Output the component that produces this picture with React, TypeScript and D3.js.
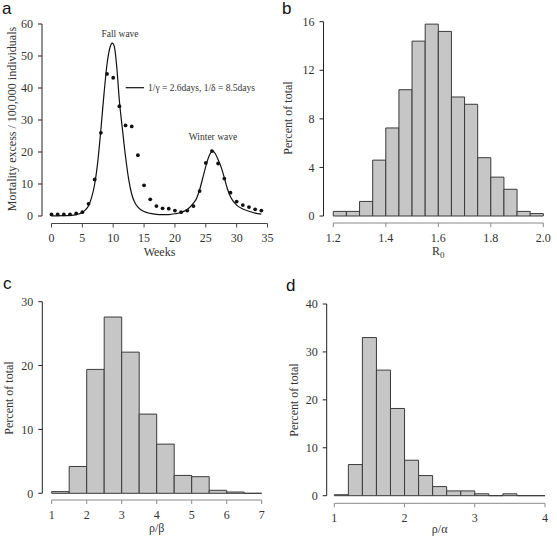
import React from "react";
import * as d3 from "d3";

// ---------- Panel a data ----------
const weeks = d3.range(0, 35);
const observed = [
  0.5, 0.5, 0.5, 0.5, 0.8, 1.2, 3.8, 11.4, 26, 44.4, 43.2, 34.3, 28.3, 28, 19, 9.6, 5.2,
  3.1, 2.4, 2.3, 1.7, 1.2, 1.7, 3.1, 7.8, 16.6, 20.3, 16.4, 11.7, 7.3, 4.5, 3.4, 2.8, 2.1, 1.7,
];
const modelWeeks = [
  0, 2, 3, 4, 5, 5.5, 6, 6.5, 7, 7.5, 8, 8.5, 9, 9.5, 9.85, 10.2, 10.6, 11, 11.5, 12, 12.5, 13,
  13.5, 14, 15, 16, 17, 18, 19, 20, 21, 22, 23, 23.5, 24, 24.5, 25, 25.5, 26.1, 26.5, 27, 27.5,
  28, 28.5, 29, 30, 31, 32, 33, 34,
];
const modelValues = [
  0.05, 0.1, 0.2, 0.45, 1.1, 1.9, 3.2, 5.8, 10, 17, 27, 38, 47.5, 52.8, 54, 52.8, 46, 36, 27,
  18.5, 11.5, 6.8, 4.2, 2.8, 1.4, 0.8, 0.5, 0.4, 0.45, 0.7, 1.1, 2.0, 4.0, 5.5, 8.2, 11.8,
  15.5, 18.6, 20.3, 19.6, 17.6, 15.2, 12, 8.5, 6, 3.4, 2.2, 1.5, 0.9, 0.6,
];
const weekTicks = [0, 5, 10, 15, 20, 25, 30, 35];
const mortalityTicks = [0, 10, 20, 30, 40, 50, 60];

// ---------- Panel b data (R0) ----------
const r0BinStarts = [1.2, 1.25, 1.3, 1.35, 1.4, 1.45, 1.5, 1.55, 1.6, 1.65, 1.7, 1.75, 1.8, 1.85, 1.9, 1.95];
const r0Percent = [0.38, 0.38, 1.2, 4.6, 7.25, 10.4, 14.4, 15.8, 15.2, 9.8, 9.2, 4.8, 3.2, 2.2, 0.38, 0.2];
const r0Ticks = [1.2, 1.4, 1.6, 1.8, 2.0];
const r0PercentTicks = [0, 4, 8, 12, 16];

// ---------- Panel c data (rho/beta) ----------
const rbBinStarts = [1, 1.5, 2, 2.5, 3, 3.5, 4, 4.5, 5, 5.5, 6, 6.5];
const rbPercent = [0.26, 4.2, 19.4, 27.6, 22.1, 12.4, 7.7, 2.8, 2.6, 0.47, 0.2, 0];
const rbTicks = [1, 2, 3, 4, 5, 6, 7];
const rbPercentTicks = [0, 10, 20, 30];

// ---------- Panel d data (rho/alpha) ----------
const raBinStarts = [1, 1.2, 1.4, 1.6, 1.8, 2, 2.2, 2.4, 2.6, 2.8, 3, 3.2, 3.4, 3.6, 3.8];
const raPercent = [0.2, 6.5, 33.0, 26.2, 18.2, 7.4, 4.2, 1.9, 1.0, 1.0, 0.4, 0, 0.4, 0, 0];
const raTicks = [1, 2, 3, 4];
const raPercentTicks = [0, 10, 20, 30, 40];

const SERIF = "'Liberation Serif', 'Times New Roman', serif";
const SANS = "'Liberation Sans', Arial, sans-serif";
const TEXT = "#333";

type AxisProps = {
  x: d3.ScaleLinear<number, number>;
  y: d3.ScaleLinear<number, number>;
  xTicks: number[];
  yTicks: number[];
  xFmt: (v: number) => string;
  axisX: number; // y-axis line x position
  axisY: number; // x-axis line y position
  xColor: string;
};

function Axes({ x, y, xTicks, yTicks, xFmt, axisX, axisY, xColor }: AxisProps) {
  const tl = 4;
  return (
    <g>
      {/* y axis */}
      <line x1={axisX} x2={axisX} y1={y(yTicks[0])} y2={y(yTicks[yTicks.length - 1])} stroke="#222" strokeWidth={1} />
      {yTicks.map((t) => (
        <g key={"y" + t}>
          <line x1={axisX - tl} x2={axisX} y1={y(t)} y2={y(t)} stroke="#222" />
          <text x={axisX - 9} y={y(t)} dy="0.35em" textAnchor="end" fontFamily={SERIF} fontSize={12} fill={TEXT}>
            {t}
          </text>
        </g>
      ))}
      {/* x axis */}
      <line x1={x(xTicks[0])} x2={x(xTicks[xTicks.length - 1])} y1={axisY} y2={axisY} stroke={xColor} strokeWidth={1} />
      {xTicks.map((t) => (
        <g key={"x" + t}>
          <line x1={x(t)} x2={x(t)} y1={axisY} y2={axisY + tl} stroke={xColor} />
          <text x={x(t)} y={axisY + 14.5} dy="0.35em" textAnchor="middle" fontFamily={SERIF} fontSize={12} fill={TEXT}>
            {xFmt(t)}
          </text>
        </g>
      ))}
    </g>
  );
}

type HistProps = {
  binStarts: number[];
  values: number[];
  binWidth: number;
  xDomain: [number, number];
  xRange: [number, number];
  yDomain: [number, number];
  yRange: [number, number];
  xTicks: number[];
  yTicks: number[];
  xFmt: (v: number) => string;
  axisX: number;
  axisY: number;
  ylabelX: number;
  ylabelY: number;
  xTitle: React.ReactNode;
  xTitleY: number;
  label: string;
  labelX: number;
  labelY: number;
};

function Histogram(p: HistProps) {
  const x = d3.scaleLinear().domain(p.xDomain).range(p.xRange);
  const y = d3.scaleLinear().domain(p.yDomain).range(p.yRange);
  return (
    <g>
      {p.binStarts.map((b, i) => {
        const x0 = x(b);
        const x1 = x(b + p.binWidth);
        const y0 = y(0);
        const y1 = y(p.values[i]);
        const d = `M${x0},${y0}V${y1}H${x1}V${y0}Z`;
        return <path key={i} d={d} fill="#c6c6c6" stroke="#3a3a3a" strokeWidth={1} />;
      })}
      <Axes x={x} y={y} xTicks={p.xTicks} yTicks={p.yTicks} xFmt={p.xFmt} axisX={p.axisX} axisY={p.axisY} xColor="#8a8a8a" />
      <text
        transform={`translate(${p.ylabelX},${p.ylabelY}) rotate(-90)`}
        textAnchor="middle"
        dy="0.35em"
        fontFamily={SERIF}
        fontSize={12}
        fill={TEXT}
      >
        Percent of total
      </text>
      <text x={(p.xRange[0] + p.xRange[1]) / 2} y={p.xTitleY} dy="0.35em" textAnchor="middle" fontFamily={SERIF} fontSize={12} fill={TEXT}>
        {p.xTitle}
      </text>
      <text x={p.labelX} y={p.labelY} fontFamily={SANS} fontSize={17} fill="#111">
        {p.label}
      </text>
    </g>
  );
}

function PanelA() {
  const x = d3.scaleLinear().domain([0, 35]).range([51.5, 267.5]);
  const y = d3.scaleLinear().domain([0, 60]).range([216, 24]);
  const line = d3
    .line<number>()
    .x((_, i) => x(modelWeeks[i]))
    .y((d) => y(d))
    .curve(d3.curveMonotoneX);
  return (
    <g>
      <path d={line(modelValues) || ""} fill="none" stroke="#111" strokeWidth={1.2} />
      {weeks.map((w, i) => (
        <circle key={w} cx={x(w)} cy={y(observed[i])} r={1.9} fill="#111" />
      ))}
      <Axes x={x} y={y} xTicks={weekTicks} yTicks={mortalityTicks} xFmt={(v) => String(v)} axisX={42} axisY={223.5} xColor="#444" />
      <text transform="translate(12,119) rotate(-90)" textAnchor="middle" dy="0.35em" fontFamily={SERIF} fontSize={12} fill={TEXT}>
        Mortality excess / 100,000 individuals
      </text>
      <text x={159.5} y={252} dy="0.35em" textAnchor="middle" fontFamily={SERIF} fontSize={12} fill={TEXT}>
        Weeks
      </text>
      <text x={120} y={34} dy="0.35em" textAnchor="middle" fontFamily={SERIF} fontSize={9.5} fill={TEXT}>
        Fall wave
      </text>
      <text x={213} y={137} dy="0.35em" textAnchor="middle" fontFamily={SERIF} fontSize={9.5} fill={TEXT}>
        Winter wave
      </text>
      <line x1={125.7} x2={144} y1={87.7} y2={87.7} stroke="#111" strokeWidth={1.2} />
      <text x={148} y={87.7} dy="0.35em" fontFamily={SERIF} fontSize={9.5} fill={TEXT}>
        1/γ = 2.6days, 1/δ = 8.5days
      </text>
      <text x={2} y={14} fontFamily={SANS} fontSize={17} fill="#111">
        a
      </text>
    </g>
  );
}

export default function App() {
  return (
    <svg
      width={557}
      height={541}
      viewBox="0 0 557 541"
      style={{ position: "absolute", left: 0, top: 0, background: "#fff" }}
    >
      <rect width={557} height={541} fill="#fff" />
      <PanelA />
      <Histogram
        binStarts={r0BinStarts}
        values={r0Percent}
        binWidth={0.05}
        xDomain={[1.2, 2.0]}
        xRange={[333.3, 543.3]}
        yDomain={[0, 16]}
        yRange={[216, 21.7]}
        xTicks={r0Ticks}
        yTicks={r0PercentTicks}
        xFmt={(v) => v.toFixed(1)}
        axisX={323.5}
        axisY={223}
        ylabelX={288}
        ylabelY={118}
        xTitle={
          <>
            R<tspan dy="3" fontSize={9}>0</tspan>
          </>
        }
        xTitleY={251}
        label="b"
        labelX={282}
        labelY={14}
      />
      <Histogram
        binStarts={rbBinStarts}
        values={rbPercent}
        binWidth={0.5}
        xDomain={[1, 7]}
        xRange={[51.7, 261.7]}
        yDomain={[0, 30]}
        yRange={[493.3, 301.7]}
        xTicks={rbTicks}
        yTicks={rbPercentTicks}
        xFmt={(v) => String(v)}
        axisX={42.3}
        axisY={500}
        ylabelX={8.5}
        ylabelY={398}
        xTitle="ρ/β"
        xTitleY={528}
        label="c"
        labelX={3}
        labelY={289}
      />
      <Histogram
        binStarts={raBinStarts}
        values={raPercent}
        binWidth={0.2}
        xDomain={[1, 4]}
        xRange={[334.3, 545]}
        yDomain={[0, 40]}
        yRange={[495.7, 304]}
        xTicks={raTicks}
        yTicks={raPercentTicks}
        xFmt={(v) => String(v)}
        axisX={326.7}
        axisY={503.3}
        ylabelX={293.5}
        ylabelY={400}
        xTitle="ρ/α"
        xTitleY={529}
        label="d"
        labelX={286}
        labelY={291}
      />
    </svg>
  );
}
